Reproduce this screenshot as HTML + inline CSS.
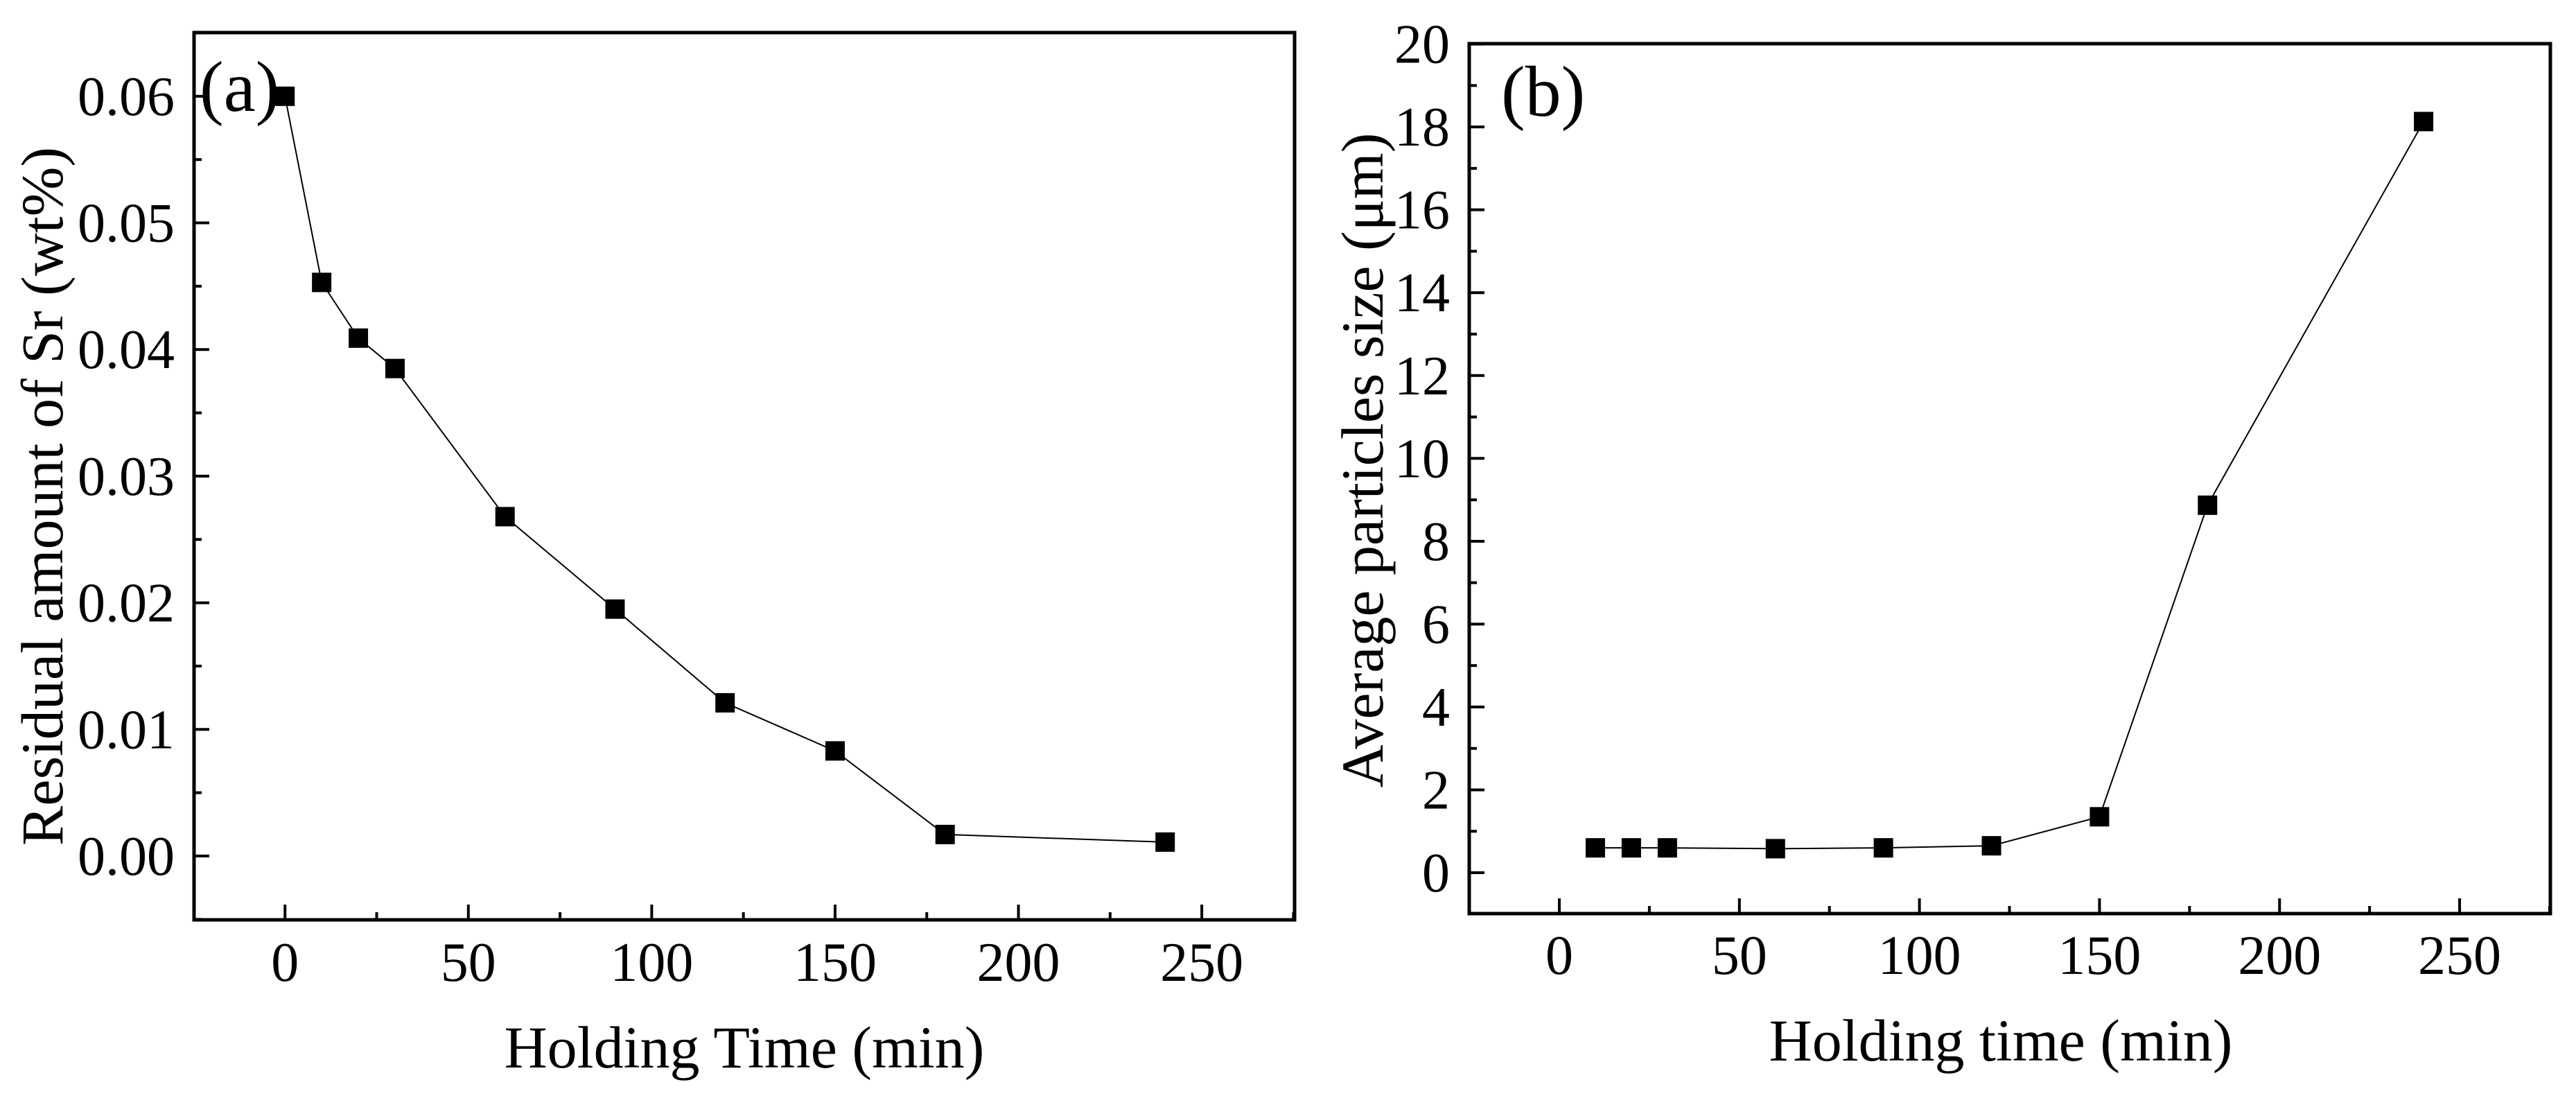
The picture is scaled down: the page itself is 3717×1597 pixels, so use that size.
<!DOCTYPE html>
<html><head><meta charset="utf-8">
<style>
html,body{margin:0;padding:0;background:#fff;}
svg{display:block;}
text{font-family:"Liberation Serif",serif;fill:#000;}
</style></head>
<body>
<svg id="chart" width="3717" height="1597" viewBox="0 0 3717 1597" xmlns="http://www.w3.org/2000/svg">
<rect width="3717" height="1597" fill="#fff"/>
<g id="pa"></g>
<g id="pb"></g>
</svg>
<script>
const timesA = [0, 10, 20, 30, 60, 90, 120, 150, 180, 240];
const srA = [0.060, 0.0453, 0.0409, 0.0385, 0.0268, 0.0195, 0.0121, 0.0083, 0.0017, 0.0011];
const timesB = [10, 20, 30, 60, 90, 120, 150, 180, 240];
const sizeB = [0.6, 0.6, 0.6, 0.58, 0.6, 0.65, 1.35, 8.87, 18.13];
const xTicks = [0, 50, 100, 150, 200, 250];
const yTicksA = [0, 0.01, 0.02, 0.03, 0.04, 0.05, 0.06];
const yTickLabelsA = ["0.00","0.01","0.02","0.03","0.04","0.05","0.06"];
const yTicksB = [0, 2, 4, 6, 8, 10, 12, 14, 16, 18, 20];

const NS = "http://www.w3.org/2000/svg";
function mk(parent, tag, attrs){
  const e = document.createElementNS(NS, tag);
  for (const k in attrs) e.setAttribute(k, attrs[k]);
  parent.appendChild(e);
  return e;
}

function drawPanel(g, cfg){
  const xs = v => cfg.L + (v - cfg.xmin) / (cfg.xmax - cfg.xmin) * (cfg.R - cfg.L);
  const ys = v => cfg.B - (v - cfg.ymin) / (cfg.ymax - cfg.ymin) * (cfg.B - cfg.T);
  // frame
  const fr = mk(g, "rect", {x:cfg.L, y:cfg.T, width:cfg.R-cfg.L, height:cfg.B-cfg.T, fill:"none", stroke:"#000", "stroke-width":5});
  
  
  // x ticks
  for (let v = 0; v <= 275; v += 25){
    const major = v % 50 === 0;
    const t = mk(g, "line", {x1:xs(v), x2:xs(v), y1:cfg.B, y2:cfg.B-(major?22:11), stroke:"#000", "stroke-width":4});
    
    
  }
  xTicks.forEach(v => {
    const t = mk(g, "text", {x:xs(v), y:cfg.xLabY, "font-size":80, "text-anchor":"middle"});
    t.textContent = String(v);
    
    
  });
  // y ticks
  const yt = cfg.yTicks;
  const step = yt[1] - yt[0];
  for (let i = 0; i < yt.length; i++){
    const v = yt[i];
    const t = mk(g, "line", {x1:cfg.L, x2:cfg.L+22, y1:ys(v), y2:ys(v), stroke:"#000", "stroke-width":4});
    
    
    const mv = v + step/2;
    if (mv < cfg.ymax){
      const m = mk(g, "line", {x1:cfg.L, x2:cfg.L+11, y1:ys(mv), y2:ys(mv), stroke:"#000", "stroke-width":4});
      
      
    }
    const mv2 = v - step/2;
    if (i === 0 && mv2 > cfg.ymin){
      const m = mk(g, "line", {x1:cfg.L, x2:cfg.L+11, y1:ys(mv2), y2:ys(mv2), stroke:"#000", "stroke-width":4});
      
      
    }
    const lb = mk(g, "text", {x:cfg.yLabX, y:ys(v)+27, "font-size":80, "text-anchor":"end"});
    lb.textContent = cfg.yLabels[i];
    
    
  }
  // line
  const pts = cfg.xd.map((x,i)=> xs(x)+","+ys(cfg.yd[i])).join(" ");
  const pl = mk(g, "polyline", {points:pts, fill:"none", stroke:"#000", "stroke-width":2});
  
  
  cfg.xd.forEach((x,i)=>{
    const r = mk(g, "rect", {x:xs(x)-14, y:ys(cfg.yd[i])-14, width:28, height:28, fill:"#000"});
    
    
  });
  // titles
  const xt = mk(g, "text", {x:cfg.xTitleX, y:cfg.xTitleY, "font-size":86, "text-anchor":"middle"});
  xt.textContent = cfg.xTitle;
  
  
  const ytt = mk(g, "text", {x:0, y:0, "font-size":86, "text-anchor":"middle", transform:"translate("+cfg.yTitleX+","+cfg.yTitleY+") rotate(-90)"});
  ytt.textContent = cfg.yTitle;
  
  
  const pl2 = mk(g, "text", {x:cfg.panX, y:cfg.panY, "font-size":104});
  pl2.textContent = cfg.panel;
  
  
}

drawPanel(document.getElementById("pa"), {
  L:280, R:1868, T:47, B:1327, xmin:-24.8, xmax:275.3, ymin:-0.00504, ymax:0.06503,
  xd:timesA, yd:srA, yTicks:yTicksA, yLabels:yTickLabelsA,
  xLabY:1415, yLabX:252, xTitle:"Holding Time (min)", xTitleX:1074, xTitleY:1540,
  yTitle:"Residual amount of Sr (wt%)", yTitleX:90, yTitleY:716, panel:"(a)", panX:288, panY:160
});
drawPanel(document.getElementById("pb"), {
  L:2120, R:3680, T:63, B:1318, xmin:-25.02, xmax:275.2, ymin:-0.987, ymax:20.01,
  xd:timesB, yd:sizeB, yTicks:yTicksB, yLabels:yTicksB.map(String),
  xLabY:1405, yLabX:2092, xTitle:"Holding time (min)", xTitleX:2887, xTitleY:1530,
  yTitle:"Average particles size (\u03bcm)", yTitleX:1995, yTitleY:664, panel:"(b)", panX:2166, panY:167
});
</script>
</body></html>
